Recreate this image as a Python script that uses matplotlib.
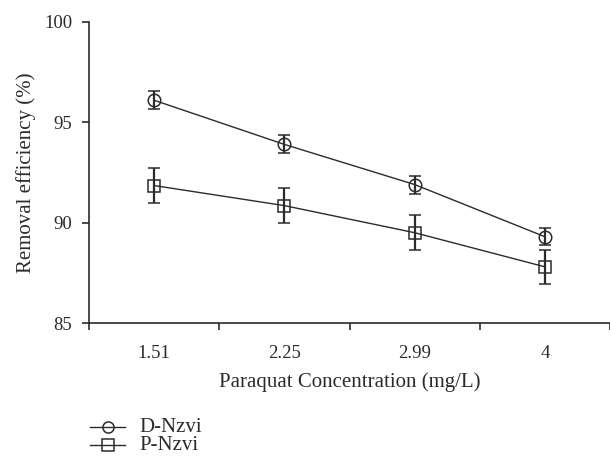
import numpy as np
import matplotlib.pyplot as plt
from matplotlib.lines import Line2D

plt.rcParams['font.family'] = ['Liberation Serif', 'DejaVu Serif']

concentrations = ["1.51", "2.25", "2.99", "4"]
d_nzvi = [96.1, 93.9, 91.9, 89.3]
d_nzvi_err = [0.45, 0.45, 0.45, 0.43]
p_nzvi = [91.85, 90.85, 89.5, 87.8]
p_nzvi_err = [0.87, 0.87, 0.87, 0.85]
series_names = ["D-Nzvi", "P-Nzvi"]

ink = "#2b2b2b"
x = np.arange(len(concentrations)) + 0.5

fig = plt.figure(figsize=(6.1, 4.59), dpi=100)
ax = fig.add_axes([89 / 610, 1 - 323 / 459, 1 - 89 / 610, (323 - 22) / 459])

style = dict(color=ink, lw=1.0, ms=9, mfc="none", mec=ink, mew=1.1,
             capsize=4, elinewidth=1.6, capthick=1.6)
ax.errorbar(x, d_nzvi, yerr=d_nzvi_err, marker="o", **style)
ax.errorbar(x, p_nzvi, yerr=p_nzvi_err, marker="s", **style)

ax.set_xlim(0, len(concentrations))
ax.set_ylim(85, 100)
ax.set_yticks([85, 90, 95, 100])
ax.set_xticks(np.arange(len(concentrations) + 1))
ax.set_xticklabels([])
ax.set_xticks(x, minor=True)
ax.set_xticklabels(concentrations, minor=True)
ax.tick_params(axis="x", which="major", length=5, width=1.2, color=ink)
ax.tick_params(axis="x", which="minor", length=0, labelsize=13.5, pad=16, labelcolor=ink)
ax.tick_params(axis="y", length=5, width=1.2, color=ink, labelsize=13.5, pad=7, labelcolor=ink)

for side in ["top", "right"]:
    ax.spines[side].set_visible(False)
for side in ["left", "bottom"]:
    ax.spines[side].set_color(ink)
    ax.spines[side].set_linewidth(1.2)

ax.set_xlabel("Paraquat Concentration (mg/L)", fontsize=15, color=ink, labelpad=7)
ax.set_ylabel("Removal efficiency (%)", fontsize=15, color=ink, labelpad=6)

# legend drawn by hand below the axes
for i, (name, mk) in enumerate(zip(series_names, ["o", "s"])):
    yy = 1 - (427 + 18 * i) / 459
    fig.add_artist(Line2D([90 / 610, 125 / 610], [yy, yy], transform=fig.transFigure,
                          color=ink, lw=1.0))
    fig.add_artist(Line2D([107.5 / 610], [yy], transform=fig.transFigure, marker=mk,
                          ms=8, mfc="none", mec=ink, mew=1.1, lw=0))
    fig.text(139 / 610, yy, name, fontsize=15, color=ink, va="center", ha="left")

fig.savefig("out.png", dpi=100)
